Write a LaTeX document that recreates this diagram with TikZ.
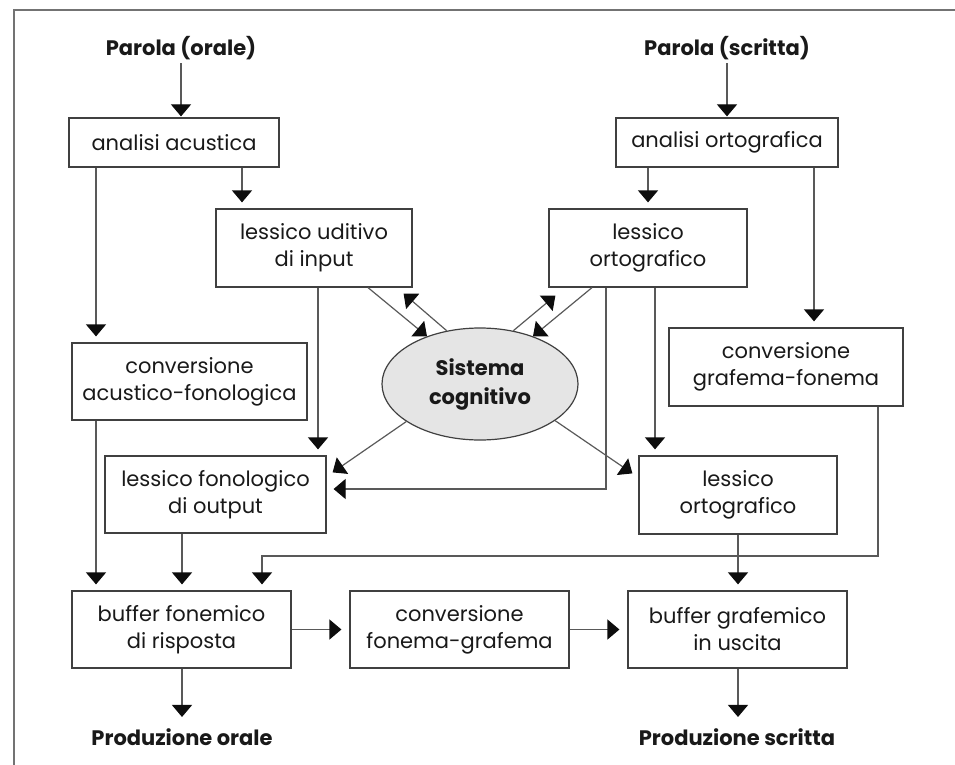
\documentclass[tikz,border=0pt]{standalone}
\usepackage{fontspec}
\setmainfont{Poppins}
\usetikzlibrary{shapes.geometric, arrows.meta, positioning}

\begin{document}
\begin{tikzpicture}
  [
    x=1pt, y=-1pt,
    every node/.style={font=\fontsize{21}{27}\selectfont, text=black!90},
    Box/.style={rectangle, draw=black!75, line width=1.2pt, align=center, inner sep=0pt, minimum height=77pt},
    Title/.style={font=\fontsize{21}{27}\selectfont\bfseries},
    Cog/.style={ellipse, draw=black!75, fill=black!10, line width=1.2pt, align=center, inner sep=0pt, minimum width=196pt, minimum height=112pt, font=\fontsize{21}{29}\selectfont\bfseries},
    Arrow/.style={-{Triangle[width=20pt, length=12pt, color=black!95]}, draw=black!65, line width=1.2pt, shorten >=6pt},
    Edge/.style={Arrow, shorten >=0pt}
  ]
  \useasboundingbox (0,0) rectangle (955,765);
  \draw [black!55, line width=1.5pt] (955,10) -- (14,10) -- (14,765);

  % Nodes
  \node[Title] (po) at (181, 48) {Parola (orale)};
  \node[Title] (ps) at (727, 48) {Parola (scritta)};

  \node[Box, minimum width=210pt, minimum height=49pt] (aa) at (174, 142.5) {analisi acustica};
  \node[Box, minimum width=222pt, minimum height=49pt] (ao) at (727, 142.5) {analisi ortografica};

  \node[Box, minimum width=196pt, minimum height=78pt] (lu) at (314, 248) {lessico uditivo\\di input};
  \node[Box, minimum width=198pt, minimum height=78pt] (lo) at (648, 248) {lessico\\ortografico};

  \node[Cog] (sc) at (480, 384) {Sistema\\cognitivo};

  \node[Box, minimum width=235pt] (caf) at (189.5, 381.5) {conversione\\acustico-fonologica};
  \node[Box, minimum width=234pt, minimum height=78pt] (cgf) at (786, 367) {conversione\\grafema-fonema};

  \node[Box, minimum width=221pt] (lf) at (215.5, 494.5) {lessico fonologico\\di output};
  \node[Box, minimum width=198pt, minimum height=78pt] (lo2) at (738, 495) {lessico\\ortografico};

  \node[Box, minimum width=219pt] (bf) at (181.5, 629.5) {buffer fonemico\\di risposta};
  \node[Box, minimum width=219pt] (cfg) at (459.5, 629.5) {conversione\\fonema-grafema};
  \node[Box, minimum width=219pt] (bg) at (737.5, 629.5) {buffer grafemico\\in uscita};

  \node[Title] (pro) at (182, 737) {Produzione orale};
  \node[Title] (prs) at (737, 737) {Produzione scritta};

  % Lines
  \path [Arrow, shorten >=1pt] (po) -- (po |- aa.north);
  \path [Arrow, shorten >=1pt] (ps) -- (ps |- ao.north);
  \path [Arrow] (96,0 |- aa.south) -- (96,0 |- caf.north);
  \path [Arrow] (242,0 |- aa.south) -- (242,0 |- lu.north);
  \path [Arrow] (648,0 |- ao.south) -- (648,0 |- lo.north);
  \path [Arrow] (814,0 |- ao.south) -- (814,0 |- cgf.north);

  \path [Arrow] (318,0 |- lu.south) -- (318,0 |- lf.north);
  \path [Edge] (368,0 |- lu.south) -- (sc.138);
  \path [Edge] (sc.122) -- ([xshift=-9pt, yshift=-6pt]lu.south east);
  \path [Edge] (592,0 |- lo.south) -- (sc.42);
  \path [Edge] (sc.58) -- ([xshift=7pt, yshift=-8pt]lo.south west);
  \path [Edge] (sc.207) -- ([xshift=6pt, yshift=-17pt]lf.north east);
  \path [Edge] (sc.334) -- ([xshift=-6pt, yshift=-18pt]lo2.north west);
  \path [Arrow, shorten >=7pt] (606,0 |- lo.south) |- ([yshift=5.5pt]lf.east);
  \path [Arrow] (655,0 |- lo.south) -- (655,0 |- lo2.north);

  \path [Arrow] (96,0 |- caf.south) -- (96,0 |- bf.north);
  \path [Arrow] (182,0 |- lf.south) -- (182,0 |- bf.north);
  \path [Arrow] (878,0 |- cgf.south) |- (262,556) -- (262,0 |- bf.north);
  \path [Arrow] (738,0 |- lo2.south) -- (738,0 |- bg.north);

  \path [Arrow, shorten >=8pt] (bf) -- (cfg);
  \path [Arrow, shorten >=8pt] (cfg) -- (bg);
  \path [Arrow, shorten >=8pt] (182,0 |- bf.south) -- (pro.north);
  \path [Arrow, shorten >=8pt] (738,0 |- bg.south) -- (738,0 |- prs.north);

\end{tikzpicture}
\end{document}
